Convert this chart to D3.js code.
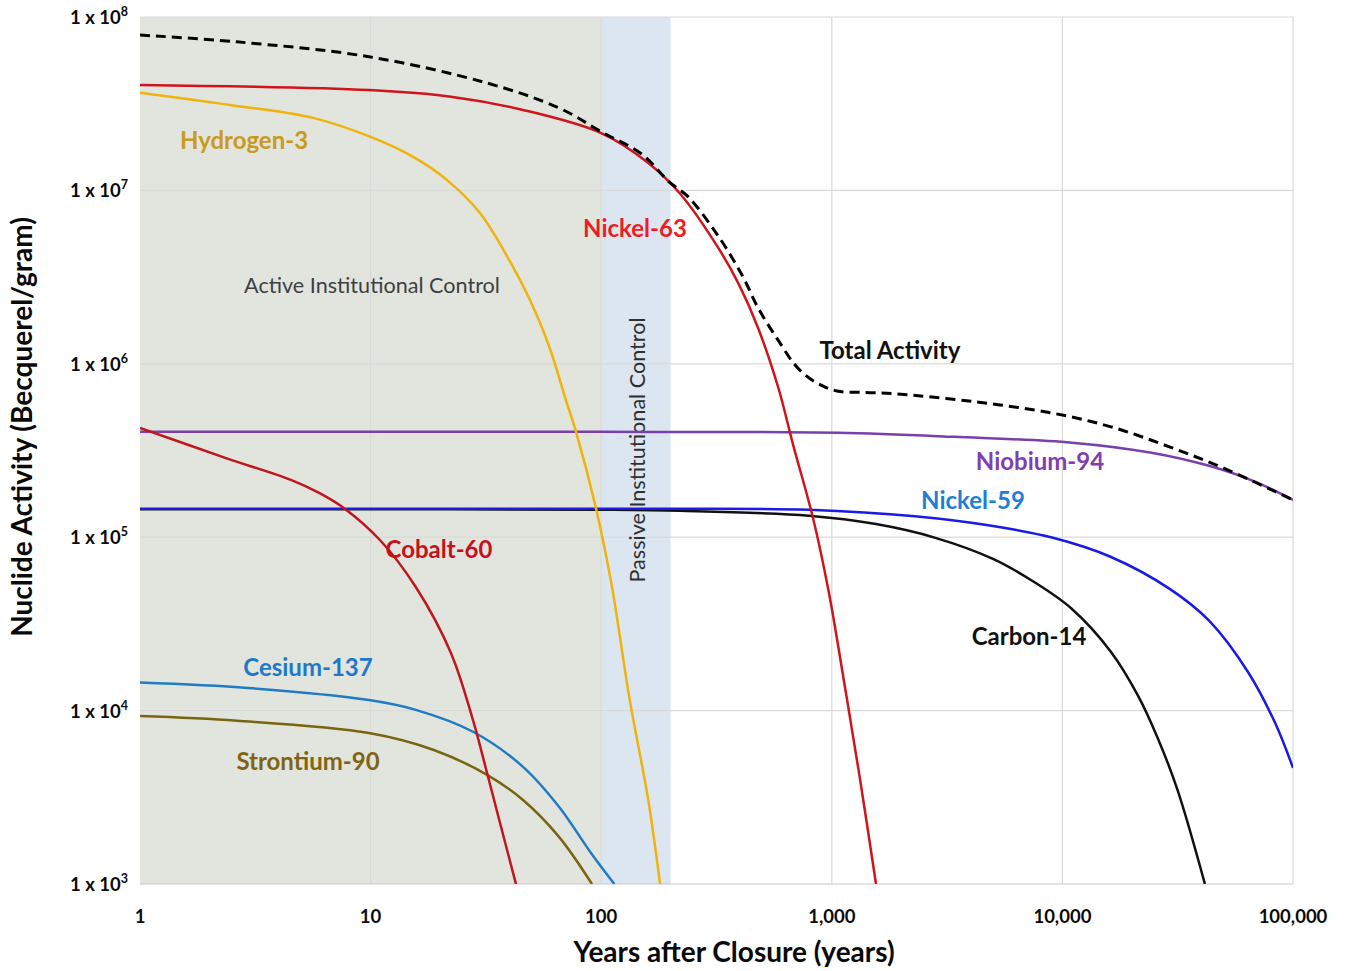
<!DOCTYPE html>
<html>
<head>
<meta charset="utf-8">
<script src="https://cdn.jsdelivr.net/npm/d3@7"></script>
<style>
  html, body { margin: 0; padding: 0; background: #fff; }
  svg { display: block; font-family: Lato, "Open Sans", sans-serif; }
</style>
</head>
<body>
<svg id="chart" width="1348" height="971"></svg>
<script>
// Years after closure and activity (Bq/g) for each nuclide
const totalYears   = [1, 2.63, 9.84, 32, 65.6, 100, 150, 197, 238, 324, 412, 479, 585, 710, 863, 1054, 1400, 1880, 4140, 9020, 16250, 29300, 52300, 100000];
const totalValues  = [7.87e7, 7.19e7, 5.9e7, 4.16e7, 2.99e7, 2.18e7, 1.62e7, 1.12e7, 9.2e6, 5.38e6, 3.17e6, 2.1e6, 1.37e6, 9.5e5, 7.74e5, 6.97e5, 6.83e5, 6.72e5, 6.05e5, 5.2e5, 4.33e5, 3.31e5, 2.44e5, 1.64e5];

const ni63Years    = [1, 9.84, 22.3, 45.8, 100, 160, 220, 324, 396, 479, 585, 683, 829, 972, 1135, 1325, 1555];
const ni63Values   = [4.06e7, 3.79e7, 3.47e7, 2.91e7, 2.14e7, 1.44e7, 9.57e6, 4.6e6, 2.86e6, 1.61e6, 7.35e5, 3.33e5, 1.29e5, 4.77e4, 1.42e4, 4.04e3, 1.0e3];

const h3Years      = [1, 2.46, 5.63, 9.94, 15.3, 21.4, 29.8, 41.5, 49.1, 59.6, 70.3, 77.8, 94.9, 111, 133, 160, 180];
const h3Values     = [3.66e7, 3.11e7, 2.62e7, 2.04e7, 1.56e7, 1.15e7, 7.4e6, 3.61e6, 2.33e6, 1.25e6, 6.18e5, 4.05e5, 1.47e5, 5.3e4, 1.15e4, 3.05e3, 1.0e3];

const co60Years    = [1, 2.36, 4.51, 5.98, 7.67, 11.0, 15.7, 22.3, 27.8, 32, 36.8, 42.7];
const co60Values   = [4.27e5, 2.86e5, 2.14e5, 1.8e5, 1.47e5, 9.6e4, 5.16e4, 2.15e4, 8.8e3, 4.36e3, 2.13e3, 1.0e3];

const cs137Years   = [1, 2.94, 9.84, 15.7, 27.8, 45.8, 65.6, 90.3, 114];
const cs137Values  = [1.45e4, 1.35e4, 1.15e4, 1.01e4, 7.55e3, 4.74e3, 2.79e3, 1.51e3, 1.0e3];

const sr90Years    = [1, 2.63, 9.84, 18.8, 32, 45.8, 65.6, 91.2];
const sr90Values   = [9.3e3, 8.75e3, 7.43e3, 5.93e3, 4.26e3, 3.05e3, 1.87e3, 1.0e3];

const nb94Years    = [1, 10, 100, 1054, 3390, 11000, 24000, 43200, 69100, 100000];
const nb94Values   = [4.05e5, 4.05e5, 4.05e5, 4.0e5, 3.79e5, 3.51e5, 3.08e5, 2.58e5, 2.08e5, 1.64e5];

const ni59Years    = [1, 10, 100, 220, 796, 2294, 5000, 9020, 16250, 29300, 43250, 63800, 83600, 100000];
const ni59Values   = [1.46e5, 1.46e5, 1.46e5, 1.46e5, 1.44e5, 1.32e5, 1.16e5, 9.95e4, 7.69e4, 5.02e4, 3.3e4, 1.67e4, 8.5e3, 4.67e3];

const c14Years     = [1, 10, 100, 220, 796, 1555, 2790, 5000, 7420, 10970, 16250, 21270, 26000, 31560, 41500];
const c14Values    = [1.45e5, 1.45e5, 1.44e5, 1.42e5, 1.33e5, 1.19e5, 9.95e4, 7.5e4, 5.59e4, 3.87e4, 2.18e4, 1.22e4, 6.86e3, 3.49e3, 1.0e3];

// Axis ticks
const xTickValues  = [1, 10, 100, 1000, 10000, 100000];
const xTickLabels  = ["1", "10", "100", "1,000", "10,000", "100,000"];
const yTickValues  = [1e3, 1e4, 1e5, 1e6, 1e7, 1e8];
const yTickExps    = ["3", "4", "5", "6", "7", "8"];

// Control periods (years)
const activePeriod  = [1, 100];
const passivePeriod = [100, 200];

const svg = d3.select("#chart");
const x = d3.scaleLog().domain([1, 1e5]).range([140, 1293]);
const y = d3.scaleLog().domain([1e3, 1e8]).range([884, 17]);

// Control period bands
svg.append("rect")
  .attr("x", x(activePeriod[0])).attr("y", y(1e8))
  .attr("width", x(activePeriod[1]) - x(activePeriod[0]))
  .attr("height", y(1e3) - y(1e8))
  .attr("fill", "#e1e5de");
svg.append("rect")
  .attr("x", x(passivePeriod[0])).attr("y", y(1e8))
  .attr("width", x(passivePeriod[1]) - x(passivePeriod[0]))
  .attr("height", y(1e3) - y(1e8))
  .attr("fill", "#dce6f1");

// Gridlines
const grid = svg.append("g");
grid.selectAll("line.h").data(yTickValues).join("line")
  .attr("x1", x(1)).attr("x2", x(1e5))
  .attr("y1", d => y(d)).attr("y2", d => y(d))
  .attr("stroke", d => d === 1e3 ? "#c8c8c8" : "#d9d9d9").attr("stroke-width", 1.2);
grid.selectAll("line.v").data(xTickValues.slice(1)).join("line")
  .attr("x1", d => x(d)).attr("x2", d => x(d))
  .attr("y1", y(1e8)).attr("y2", y(1e3))
  .attr("stroke", "#d9d9d9").attr("stroke-width", 1.2);

// Tick labels
svg.append("g").selectAll("text").data(xTickValues).join("text")
  .attr("x", d => x(d)).attr("y", 923)
  .attr("text-anchor", "middle")
  .attr("font-size", 18.5).attr("font-weight", "bold").attr("fill", "#0a0a0a")
  .text((d, i) => xTickLabels[i]);

const yLab = svg.append("g").selectAll("text").data(yTickValues).join("text")
  .attr("x", 128).attr("y", d => y(d) + 7)
  .attr("text-anchor", "end")
  .attr("font-size", 18.5).attr("font-weight", "bold").attr("fill", "#0a0a0a");
yLab.append("tspan").text("1 x 10");
yLab.append("tspan").attr("font-size", 12.5).attr("dy", -8).text((d, i) => yTickExps[i]);

// Axis titles
svg.append("text")
  .attr("x", 734).attr("y", 962).attr("text-anchor", "middle")
  .attr("font-size", 28).attr("font-weight", "bold").attr("fill", "#0a0a0a")
  .text("Years after Closure (years)");
svg.append("text")
  .attr("transform", "translate(32,427) rotate(-90)").attr("text-anchor", "middle")
  .attr("font-size", 28).attr("font-weight", "bold").attr("fill", "#0a0a0a")
  .text("Nuclide Activity (Becquerel/gram)");

// Period labels
svg.append("text")
  .attr("x", 372).attr("y", 293).attr("text-anchor", "middle")
  .attr("font-size", 21.6).attr("fill", "#3f3f3f")
  .text("Active Institutional Control");
svg.append("text")
  .attr("transform", "translate(645,450) rotate(-90)").attr("text-anchor", "middle")
  .attr("font-size", 21.6).attr("fill", "#2f2f2f")
  .text("Passive Institutional Control");

// Series
const series = [
  { name: "Carbon-14",    years: c14Years,   values: c14Values,   color: "#111111", width: 2.5 },
  { name: "Nickel-59",    years: ni59Years,  values: ni59Values,  color: "#1a1ae6", width: 2.5 },
  { name: "Niobium-94",   years: nb94Years,  values: nb94Values,  color: "#7a3fae", width: 2.5 },
  { name: "Strontium-90", years: sr90Years,  values: sr90Values,  color: "#7a6410", width: 2.5 },
  { name: "Cesium-137",   years: cs137Years, values: cs137Values, color: "#1f7cc4", width: 2.5 },
  { name: "Cobalt-60",    years: co60Years,  values: co60Values,  color: "#c0161e", width: 2.5 },
  { name: "Hydrogen-3",   years: h3Years,    values: h3Values,    color: "#efb30c", width: 2.5 },
  { name: "Nickel-63",    years: ni63Years,  values: ni63Values,  color: "#d0141c", width: 2.5 },
  { name: "Total Activity", years: totalYears, values: totalValues, color: "#000000", width: 3, dash: "10,6" }
];

svg.append("clipPath").attr("id", "plotClip").append("rect")
  .attr("x", x(1)).attr("y", y(1e8)).attr("width", x(1e5) - x(1)).attr("height", y(1e3) - y(1e8));

const line = d3.line()
  .x(d => x(d[0])).y(d => y(d[1]))
  .curve(d3.curveCatmullRom.alpha(0.5));

svg.append("g").attr("clip-path", "url(#plotClip)")
  .selectAll("path").data(series).join("path")
  .attr("d", s => line(s.years.map((t, i) => [t, s.values[i]])))
  .attr("fill", "none")
  .attr("stroke", s => s.color)
  .attr("stroke-width", s => s.width)
  .attr("stroke-dasharray", s => s.dash || null)
  .attr("stroke-linejoin", "round");

// Series labels
const labels = [
  { text: "Hydrogen-3",     x: 244,  y: 141, color: "#c99a1c" },
  { text: "Nickel-63",      x: 635,  y: 229, color: "#ee1c25" },
  { text: "Total Activity", x: 890,  y: 351, color: "#111111" },
  { text: "Niobium-94",     x: 1040, y: 462, color: "#7f3fb0" },
  { text: "Nickel-59",      x: 973,  y: 501, color: "#1f7fd4" },
  { text: "Cobalt-60",      x: 439,  y: 550, color: "#c8101c" },
  { text: "Carbon-14",      x: 1029, y: 637, color: "#111111" },
  { text: "Cesium-137",     x: 308,  y: 668, color: "#1f78c8" },
  { text: "Strontium-90",   x: 308,  y: 762, color: "#806414" }
];
svg.append("g").selectAll("text").data(labels).join("text")
  .attr("x", d => d.x).attr("y", d => d.y)
  .attr("dy", "0.35em")
  .attr("text-anchor", "middle")
  .attr("font-size", 24).attr("font-weight", "bold")
  .attr("fill", d => d.color)
  .text(d => d.text);
</script>
</body>
</html>
